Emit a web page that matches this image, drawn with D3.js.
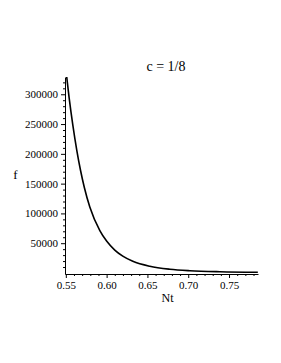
<!DOCTYPE html>
<html>
<head>
<meta charset="utf-8">
<script src="https://cdn.jsdelivr.net/npm/d3@7"></script>
<style>
html,body{margin:0;padding:0;background:#fff;}
svg{display:block;}
text{font-family:"Liberation Serif","Times New Roman",serif;fill:#000;}
</style>
</head>
<body>
<svg id="chart" width="281" height="363"></svg>
<script>
const title = "c = 1/8";
const xLabel = "Nt";
const yLabel = "f";
const ntValues = [0.5500, 0.5506, 0.5540, 0.5586, 0.5635, 0.5680, 0.5727, 0.5794, 0.5917, 0.6002, 0.6100, 0.6198, 0.6321, 0.6529, 0.6774, 0.7020, 0.7387, 0.7853];
const fValues  = [342500, 335000, 294900, 248200, 205500, 172500, 143600, 110900, 71250, 53150, 38480, 28260, 19660, 11330, 6370, 3850, 2065, 1150];
const xTicks = [0.55, 0.60, 0.65, 0.70, 0.75];
const xTickLabels = ["0.55", "0.60", "0.65", "0.70", "0.75"];
const yTicks = [50000, 100000, 150000, 200000, 250000, 300000];
const yTickLabels = ["50000", "100000", "150000", "200000", "250000", "300000"];

const svg = d3.select("#chart");
const x = d3.scaleLinear().domain([0.549, 0.7855]).range([65, 258]);
const y = d3.scaleLinear().domain([-1700, 329000]).range([274, 77]);

const xMinor = d3.range(55, 79).map(d => d / 100).filter(v => !xTicks.some(t => Math.abs(t - v) < 1e-9));
const yMinor = d3.range(1, 33).map(d => d * 10000).filter(v => !yTicks.includes(v));

// curve
const data = ntValues.map((v, i) => [v, fValues[i]]);
svg.append("defs").append("clipPath").attr("id", "clip")
  .append("rect").attr("x", 65).attr("y", 77).attr("width", 194).attr("height", 198);
svg.append("path")
  .datum(data)
  .attr("clip-path", "url(#clip)")
  .attr("fill", "none")
  .attr("stroke", "#000")
  .attr("stroke-width", 1.6)
  .attr("d", d3.line().x(d => x(d[0])).y(d => y(d[1])).curve(d3.curveMonotoneX));

// x axis
const gx = svg.append("g").attr("transform", "translate(0,274)");
gx.call(d3.axisBottom(x).tickValues(xTicks).tickFormat((d, i) => xTickLabels[i]).tickSize(4).tickSizeOuter(0).tickPadding(3));
const gxm = svg.append("g").attr("transform", "translate(0,274)");
gxm.call(d3.axisBottom(x).tickValues(xMinor).tickFormat("").tickSize(2).tickSizeOuter(0));
gxm.select(".domain").remove();

// y axis
const gy = svg.append("g").attr("transform", "translate(65,0)");
gy.call(d3.axisLeft(y).tickValues(yTicks).tickFormat((d, i) => yTickLabels[i]).tickSize(4).tickSizeOuter(0).tickPadding(3));
const gym = svg.append("g").attr("transform", "translate(65,0)");
gym.call(d3.axisLeft(y).tickValues(yMinor).tickFormat("").tickSize(2).tickSizeOuter(0));
gym.select(".domain").remove();

svg.selectAll(".tick text").attr("font-family", "Liberation Serif").attr("font-size", 11).attr("fill", "#000");
svg.selectAll(".domain, .tick line").attr("stroke", "#000").attr("stroke-width", 1);

// labels
svg.append("text").attr("x", 166).attr("y", 71).attr("text-anchor", "middle").attr("font-size", 14).text(title);
svg.append("text").attr("x", 167.5).attr("y", 302).attr("text-anchor", "middle").attr("font-size", 12).text(xLabel);
svg.append("text").attr("x", 15.5).attr("y", 179).attr("text-anchor", "middle").attr("font-size", 13).text(yLabel);
</script>
</body>
</html>
